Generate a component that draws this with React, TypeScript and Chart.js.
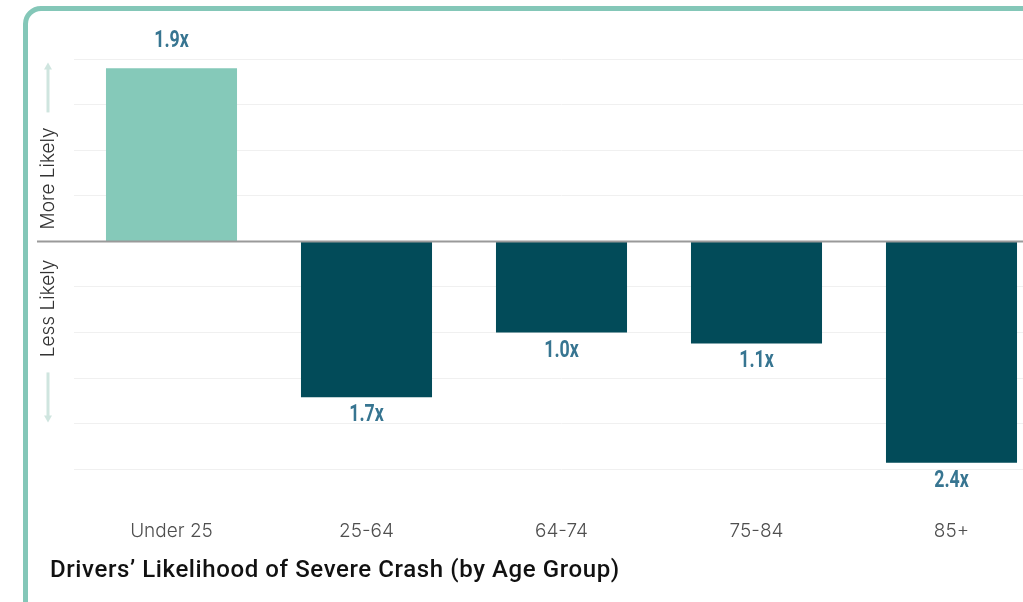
import React, { useEffect, useRef } from "react";
import { Chart, registerables } from "chart.js";

Chart.register(...registerables);

// ---- data ----
const categories = ["Under 25", "25-64", "64-74", "75-84", "85+"];
const likelihood = [1.9, -1.71, -1.0, -1.12, -2.43];
const valueLabels = ["1.9x", "1.7x", "1.0x", "1.1x", "2.4x"];
const sideLabels = ["More Likely", "Less Likely"];
const titleText = "Drivers\u2019 Likelihood of Severe Crash (by Age Group)";
const yMin = -2.5;
const yMax = 2.2;

// ---- styles ----
const LIGHT = "#85c9b9";
const DARK = "#024b59";
const LABEL_BLUE = "#377591";
const ARROW = "#cfe5df";

const valueLabelPlugin = {
  id: "valueLabels",
  afterDatasetsDraw(chart: any) {
    const ctx = chart.ctx;
    const meta = chart.getDatasetMeta(0);
    meta.data.forEach((bar: any, i: number) => {
      const v = likelihood[i];
      const y = v >= 0 ? bar.y - 27 : bar.y + 18;
      ctx.save();
      ctx.translate(bar.x, y);
      ctx.scale(0.74, 1);
      ctx.font = "bold 24px Roboto, sans-serif";
      ctx.fillStyle = LABEL_BLUE;
      ctx.textAlign = "center";
      ctx.textBaseline = "middle";
      ctx.fillText(valueLabels[i], 0, 0);
      ctx.restore();
    });
  },
};

const zeroLinePlugin = {
  id: "zeroLine",
  afterDatasetsDraw(chart: any) {
    const ctx = chart.ctx;
    const y = chart.scales.y.getPixelForValue(0);
    ctx.save();
    ctx.strokeStyle = "#9a9a9a";
    ctx.lineWidth = 2;
    ctx.beginPath();
    ctx.moveTo(37, y);
    ctx.lineTo(chart.width, y);
    ctx.stroke();
    ctx.restore();
  },
};

function arrow(ctx: CanvasRenderingContext2D, x: number, y1: number, y2: number) {
  const dir = y2 < y1 ? -1 : 1;
  ctx.beginPath();
  ctx.moveTo(x, y1);
  ctx.lineTo(x, y2 - dir * 4);
  ctx.stroke();
  ctx.beginPath();
  ctx.moveTo(x, y2);
  ctx.lineTo(x - 4, y2 - dir * 7);
  ctx.lineTo(x + 4, y2 - dir * 7);
  ctx.closePath();
  ctx.fill();
}

const sideLabelPlugin = {
  id: "sideLabels",
  afterDraw(chart: any) {
    const ctx = chart.ctx;
    const y0 = chart.scales.y.getPixelForValue(0);
    const x = 48;
    ctx.save();
    ctx.font = "300 19px Inter, 'Open Sans', sans-serif";
    ctx.fillStyle = "#333";
    ctx.textAlign = "center";
    ctx.textBaseline = "middle";
    ctx.save();
    ctx.translate(x, y0 - 63);
    ctx.rotate(-Math.PI / 2);
    ctx.fillText(sideLabels[0], 0, 0);
    ctx.restore();
    ctx.save();
    ctx.translate(x, y0 + 67);
    ctx.rotate(-Math.PI / 2);
    ctx.fillText(sideLabels[1], 0, 0);
    ctx.restore();
    ctx.strokeStyle = ARROW;
    ctx.fillStyle = ARROW;
    ctx.lineWidth = 3;
    arrow(ctx, x, y0 - 129, y0 - 179);
    arrow(ctx, x, y0 + 131, y0 + 181);
    ctx.restore();
  },
};

export default function App() {
  const ref = useRef<HTMLCanvasElement | null>(null);

  useEffect(() => {
    if (!ref.current) return;
    const chart = new Chart(ref.current, {
      type: "bar",
      data: {
        labels: categories,
        datasets: [
          {
            data: likelihood,
            backgroundColor: likelihood.map((v) => (v >= 0 ? LIGHT : DARK)),
            borderWidth: 0,
            barPercentage: 0.672,
            categoryPercentage: 1,
          },
        ],
      },
      options: {
        responsive: false,
        animation: false,
        layout: { padding: { left: 74, right: 51, top: 41, bottom: 8 } },
        plugins: {
          legend: { display: false },
          tooltip: { enabled: false },
          title: { display: false },
        },
        scales: {
          x: {
            grid: { display: false, drawTicks: false },
            border: { display: false },
            ticks: {
              color: "#4f4f4f",
              font: { family: "Inter, sans-serif", size: 19, weight: "300" },
              padding: 51,
            },
          },
          y: {
            min: yMin,
            max: yMax,
            ticks: { display: false, stepSize: 0.5 },
            border: { display: false },
            grid: {
              drawTicks: false,
              lineWidth: 1,
              color: (c: any) => {
                const v = c.tick ? c.tick.value : 0;
                if (Math.abs(v) < 1e-6) return "rgba(0,0,0,0)";
                return Math.abs(v * 2 - Math.round(v * 2)) < 1e-6 ? "#f0f0f0" : "rgba(0,0,0,0)";
              },
            },
          },
        },
      },
      plugins: [valueLabelPlugin, zeroLinePlugin, sideLabelPlugin],
    });
    return () => chart.destroy();
  }, []);

  return (
    <div style={{ position: "fixed", inset: 0, overflow: "hidden", background: "#fff" }}>
      <div
        style={{
          position: "absolute",
          left: 23,
          top: 6,
          width: 1100,
          height: 640,
          border: "5px solid #84c7b8",
          borderRadius: 18,
          boxSizing: "border-box",
        }}
      />
      <canvas
        ref={ref}
        width={1100}
        height={602}
        style={{ position: "absolute", left: 0, top: 0, width: 1100, height: 602 }}
      />
      <div
        style={{
          position: "absolute",
          left: 50,
          top: 555,
          fontFamily: "Roboto, sans-serif",
          fontSize: 24,
          fontWeight: 500,
          letterSpacing: "0.6px",
          color: "#111",
          whiteSpace: "nowrap",
          lineHeight: "28px",
        }}
      >
        {titleText}
      </div>
    </div>
  );
}
